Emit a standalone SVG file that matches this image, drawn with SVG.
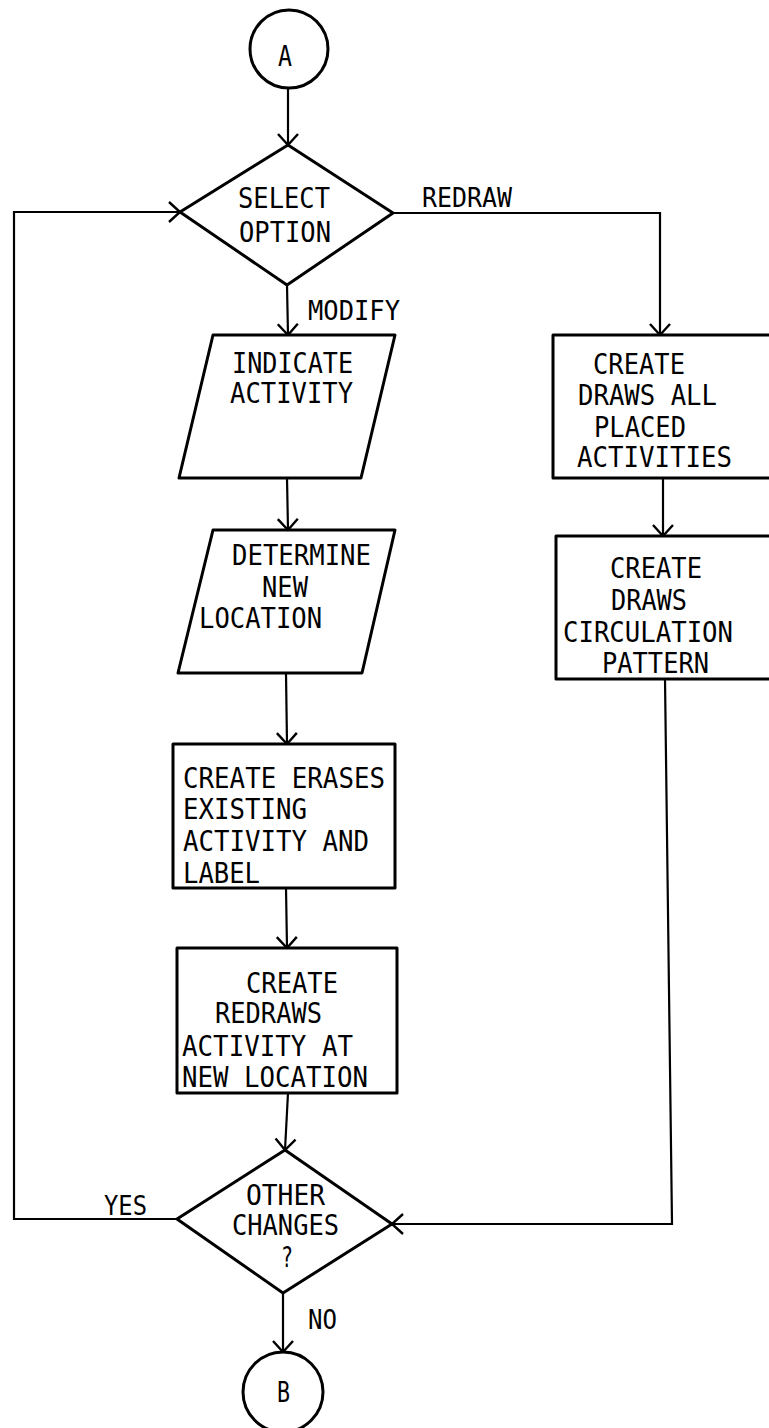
<svg xmlns="http://www.w3.org/2000/svg" width="769" height="1428" viewBox="0 0 769 1428">
<style>
.n{fill:#fff;stroke:#000;stroke-width:3;stroke-linejoin:round}
.c{fill:none;stroke:#000;stroke-width:2.2}
text{font-family:"DejaVu Sans Mono","Liberation Mono",monospace;font-size:28px;fill:#000}
.l{font-size:26px}
</style>
<defs>
<marker id="ah" markerUnits="userSpaceOnUse" viewBox="-13 -12 15 24" markerWidth="15" markerHeight="24" refX="0" refY="0" orient="auto" overflow="visible">
<path d="M-11,-10 L0,0 L-11,10" fill="none" stroke="#000" stroke-width="2.4"/>
</marker>
</defs>
<rect width="769" height="1428" fill="#fff"/>
<g id="connectors">
<line class="c" x1="288" y1="88" x2="288" y2="145" marker-end="url(#ah)"/>
<line class="c" x1="287" y1="285" x2="288" y2="335" marker-end="url(#ah)"/>
<line class="c" x1="287" y1="478" x2="288" y2="530" marker-end="url(#ah)"/>
<line class="c" x1="286" y1="673" x2="287" y2="744" marker-end="url(#ah)"/>
<line class="c" x1="286" y1="888" x2="287" y2="948" marker-end="url(#ah)"/>
<line class="c" x1="288" y1="1093" x2="285" y2="1150" marker-end="url(#ah)"/>
<line class="c" x1="283" y1="1293" x2="283" y2="1352" marker-end="url(#ah)"/>
<polyline class="c" points="177,1219 14,1219 14,212 180,212" marker-end="url(#ah)"/>
<polyline class="c" points="393,213 660,213 660,335" marker-end="url(#ah)"/>
<line class="c" x1="663" y1="478" x2="663" y2="536" marker-end="url(#ah)"/>
<polyline class="c" points="665,679 672,1224 392,1224" marker-end="url(#ah)"/>
<text class="l" x="422" y="207" textLength="90" lengthAdjust="spacingAndGlyphs">REDRAW</text>
<text class="l" x="308" y="320" textLength="92" lengthAdjust="spacingAndGlyphs">MODIFY</text>
<text class="l" x="104" y="1215" textLength="43" lengthAdjust="spacingAndGlyphs">YES</text>
<text class="l" x="308" y="1329" textLength="29" lengthAdjust="spacingAndGlyphs">NO</text>
</g>
<g id="nodeA">
<circle class="n" cx="289" cy="49" r="39"/>
<text x="278" y="66" textLength="14" lengthAdjust="spacingAndGlyphs">A</text>
</g>
<g id="selectOption">
<polygon class="n" points="288,145 393,213 287,285 180,212"/>
<text x="238" y="208" textLength="92" lengthAdjust="spacingAndGlyphs">SELECT</text>
<text x="239" y="242" textLength="92" lengthAdjust="spacingAndGlyphs">OPTION</text>
</g>
<g id="indicateActivity">
<polygon class="n" points="213,335 395,335 361,478 179,478"/>
<text x="232" y="373" textLength="121" lengthAdjust="spacingAndGlyphs">INDICATE</text>
<text x="230" y="403" textLength="123" lengthAdjust="spacingAndGlyphs">ACTIVITY</text>
</g>
<g id="determineLocation">
<polygon class="n" points="213,530 395,530 362,673 178,673"/>
<text x="232" y="565" textLength="139" lengthAdjust="spacingAndGlyphs">DETERMINE</text>
<text x="262" y="597" textLength="46" lengthAdjust="spacingAndGlyphs">NEW</text>
<text x="199" y="628" textLength="123" lengthAdjust="spacingAndGlyphs">LOCATION</text>
</g>
<g id="erases">
<rect class="n" x="173" y="744" width="222" height="144"/>
<text x="183" y="788" textLength="202" lengthAdjust="spacingAndGlyphs">CREATE ERASES</text>
<text x="183" y="819" textLength="124" lengthAdjust="spacingAndGlyphs">EXISTING</text>
<text x="183" y="851" textLength="186" lengthAdjust="spacingAndGlyphs">ACTIVITY AND</text>
<text x="183" y="883" textLength="77" lengthAdjust="spacingAndGlyphs">LABEL</text>
</g>
<g id="redraws">
<rect class="n" x="177" y="948" width="220" height="145"/>
<text x="246" y="993" textLength="92" lengthAdjust="spacingAndGlyphs">CREATE</text>
<text x="215" y="1023" textLength="107" lengthAdjust="spacingAndGlyphs">REDRAWS</text>
<text x="182" y="1056" textLength="171" lengthAdjust="spacingAndGlyphs">ACTIVITY AT</text>
<text x="182" y="1087" textLength="186" lengthAdjust="spacingAndGlyphs">NEW LOCATION</text>
</g>
<g id="drawsAll">
<rect class="n" x="553" y="335" width="230" height="143"/>
<text x="593" y="374" textLength="92" lengthAdjust="spacingAndGlyphs">CREATE</text>
<text x="578" y="405" textLength="139" lengthAdjust="spacingAndGlyphs">DRAWS ALL</text>
<text x="594" y="437" textLength="92" lengthAdjust="spacingAndGlyphs">PLACED</text>
<text x="577" y="467" textLength="155" lengthAdjust="spacingAndGlyphs">ACTIVITIES</text>
</g>
<g id="drawsCirculation">
<rect class="n" x="556" y="536" width="230" height="143"/>
<text x="610" y="578" textLength="92" lengthAdjust="spacingAndGlyphs">CREATE</text>
<text x="611" y="610" textLength="76" lengthAdjust="spacingAndGlyphs">DRAWS</text>
<text x="563" y="642" textLength="170" lengthAdjust="spacingAndGlyphs">CIRCULATION</text>
<text x="602" y="673" textLength="107" lengthAdjust="spacingAndGlyphs">PATTERN</text>
</g>
<g id="otherChanges">
<polygon class="n" points="285,1150 392,1224 283,1293 177,1219"/>
<text x="246" y="1205" textLength="79" lengthAdjust="spacingAndGlyphs">OTHER</text>
<text x="232" y="1235" textLength="107" lengthAdjust="spacingAndGlyphs">CHANGES</text>
<text x="281" y="1267" textLength="12" lengthAdjust="spacingAndGlyphs">?</text>
</g>
<g id="nodeB">
<circle class="n" cx="283" cy="1392" r="40"/>
<text x="277" y="1402" textLength="13" lengthAdjust="spacingAndGlyphs">B</text>
</g>
</svg>
